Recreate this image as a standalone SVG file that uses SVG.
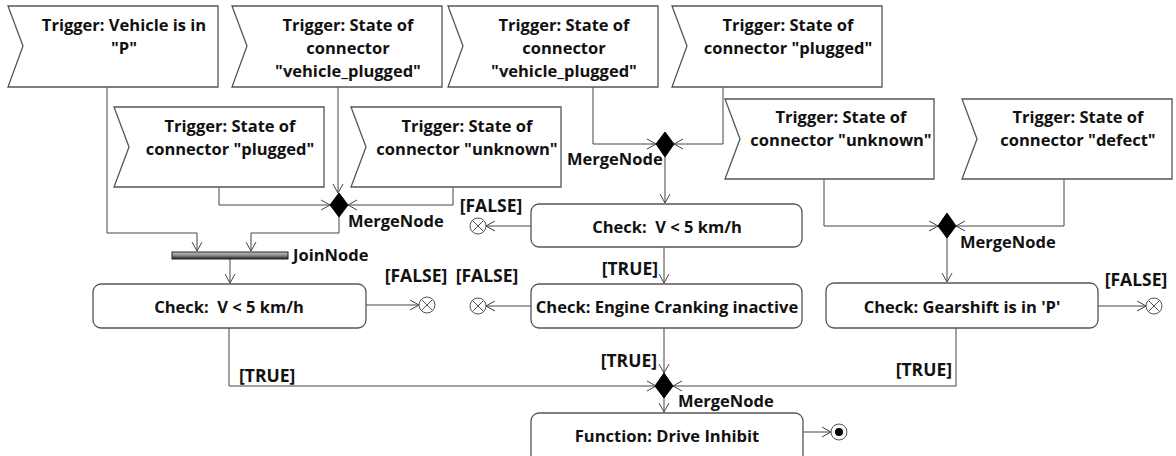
<svg xmlns="http://www.w3.org/2000/svg" width="1176" height="456" viewBox="0 0 1176 456">
<defs>
<marker id="arr" markerWidth="12" markerHeight="12" refX="10" refY="6" orient="auto" markerUnits="userSpaceOnUse">
<path d="M1,1 L10,6 L1,11" fill="none" stroke="#444" stroke-width="1"/>
</marker>
<linearGradient id="bar" x1="0" y1="0" x2="0" y2="1">
<stop offset="0" stop-color="#c8c8c8"/>
<stop offset="0.5" stop-color="#888"/>
<stop offset="1" stop-color="#222"/>
</linearGradient>
</defs>
<style>
.t{font-family:"Open Sans","Noto Sans","DejaVu Sans",sans-serif;font-weight:bold;font-size:16.5px;fill:#111;white-space:pre;}
.g{font-size:17.5px;}
.m{text-anchor:middle;}
.e{text-anchor:end;}
.sh{fill:#fff;stroke:#555;stroke-width:1.3;}
.c{fill:none;stroke:#444;stroke-width:1;marker-end:url(#arr);}
.d{fill:#000;stroke:#000;stroke-width:1;}
.ff{fill:#fff;stroke:#555;stroke-width:1;}
.x{stroke:#555;stroke-width:1;}
</style>
<rect width="1176" height="456" fill="#fff"/>

<g id="connectors">
<path class="c" d="M107,87 V233 H197 V251"/>
<path class="c" d="M338,87 V193"/>
<path class="c" d="M219,187 V205 H330"/>
<path class="c" d="M453,187 V205 H348"/>
<path class="c" d="M339,217 V233 H251 V251"/>
<path class="c" d="M230,259 V283"/>
<path class="c" d="M366,305 H419"/>
<path class="c" d="M229,328 V386 H656"/>
<path class="c" d="M593,87 V144 H656"/>
<path class="c" d="M723,87 V144 H674"/>
<path class="c" d="M665,157 V203"/>
<path class="c" d="M531,226 H486"/>
<path class="c" d="M664,247 V283"/>
<path class="c" d="M531,306 H486"/>
<path class="c" d="M664,328 V373"/>
<path class="c" d="M824,179 V226 H938"/>
<path class="c" d="M1064,179 V226 H956"/>
<path class="c" d="M947,238 V282"/>
<path class="c" d="M1098,306 H1146"/>
<path class="c" d="M956,328 V386 H673"/>
<path class="c" d="M664,398 V412"/>
<path class="c" d="M803,432 H831"/>
<text class="t g m" x="491" y="212">[FALSE]</text>
<text class="t g m" x="416" y="282">[FALSE]</text>
<text class="t g m" x="487" y="282">[FALSE]</text>
<text class="t g m" x="1136" y="286">[FALSE]</text>
<text class="t g e" x="658" y="275">[TRUE]</text>
<text class="t g" x="239" y="382">[TRUE]</text>
<text class="t g e" x="657" y="367">[TRUE]</text>
<text class="t g e" x="952" y="376">[TRUE]</text>
</g>

<g id="trigger1">
<path class="sh" d="M8,6 H218 V87 H8 L23,46 Z"/>
<text class="t m" x="124" y="31">Trigger: Vehicle is in</text>
<text class="t m" x="124" y="54">"P"</text>
</g>
<g id="trigger2">
<path class="sh" d="M232,6 H442 V87 H232 L247,46 Z"/>
<text class="t m" x="348" y="31">Trigger: State of</text>
<text class="t m" x="348" y="54">connector</text>
<text class="t m" x="348" y="77">"vehicle_plugged"</text>
</g>
<g id="trigger3">
<path class="sh" d="M114,107 H324 V187 H114 L129,147 Z"/>
<text class="t m" x="230" y="132">Trigger: State of</text>
<text class="t m" x="230" y="155">connector "plugged"</text>
</g>
<g id="trigger4">
<path class="sh" d="M351,107 H561 V187 H351 L366,147 Z"/>
<text class="t m" x="467" y="132">Trigger: State of</text>
<text class="t m" x="467" y="155">connector "unknown"</text>
</g>
<g id="trigger5">
<path class="sh" d="M448,6 H658 V87 H448 L463,46 Z"/>
<text class="t m" x="564" y="31">Trigger: State of</text>
<text class="t m" x="564" y="54">connector</text>
<text class="t m" x="564" y="77">"vehicle_plugged"</text>
</g>
<g id="trigger6">
<path class="sh" d="M672,6 H882 V87 H672 L687,46 Z"/>
<text class="t m" x="788" y="31">Trigger: State of</text>
<text class="t m" x="788" y="54">connector "plugged"</text>
</g>
<g id="trigger7">
<path class="sh" d="M725,99 H934 V179 H725 L740,139 Z"/>
<text class="t m" x="841" y="123">Trigger: State of</text>
<text class="t m" x="841" y="146">connector "unknown"</text>
</g>
<g id="trigger8">
<path class="sh" d="M962,99 H1172 V179 H962 L977,139 Z"/>
<text class="t m" x="1078" y="123">Trigger: State of</text>
<text class="t m" x="1078" y="146">connector "defect"</text>
</g>

<g id="merge1">
<path class="d" d="M339,193 L348,205 L339,217 L330,205 Z"/>
<text class="t" x="348" y="227">MergeNode</text>
</g>
<g id="merge2">
<path class="d" d="M665,132 L674,144 L665,157 L656,144 Z"/>
<text class="t" x="567" y="165">MergeNode</text>
</g>
<g id="merge3">
<path class="d" d="M947,213 L956,226 L947,238 L938,226 Z"/>
<text class="t" x="960" y="248">MergeNode</text>
</g>
<g id="merge4">
<path class="d" d="M664,373 L673,386 L664,398 L655,386 Z"/>
<text class="t" x="678" y="407">MergeNode</text>
</g>

<g id="join">
<rect x="172" y="252" width="116" height="7" fill="url(#bar)" stroke="#222" stroke-width="1"/>
<text class="t" x="293" y="261">JoinNode</text>
</g>

<g id="check1">
<rect class="sh" x="93" y="284" width="273" height="44" rx="8"/>
<text class="t m" x="229" y="313">Check:  V &lt; 5 km/h</text>
</g>
<g id="check2">
<rect class="sh" x="531" y="204" width="271" height="43" rx="8"/>
<text class="t m" x="667" y="233">Check:  V &lt; 5 km/h</text>
</g>
<g id="check3">
<rect class="sh" x="531" y="284" width="271" height="44" rx="8"/>
<text class="t m" x="667" y="313">Check: Engine Cranking inactive</text>
</g>
<g id="check4">
<rect class="sh" x="826" y="283" width="272" height="45" rx="8"/>
<text class="t m" x="962" y="313">Check: Gearshift is in 'P'</text>
</g>
<g id="function">
<rect class="sh" x="531" y="413" width="272" height="52" rx="8"/>
<text class="t m" x="667" y="442">Function: Drive Inhibit</text>
</g>

<g id="final1">
<circle class="ff" cx="427" cy="305" r="8"/>
<path class="x" d="M421.3,299.3 L432.7,310.7 M432.7,299.3 L421.3,310.7"/>
</g>
<g id="final2">
<circle class="ff" cx="478" cy="226" r="8"/>
<path class="x" d="M472.3,220.3 L483.7,231.7 M483.7,220.3 L472.3,231.7"/>
</g>
<g id="final3">
<circle class="ff" cx="478" cy="306" r="8"/>
<path class="x" d="M472.3,300.3 L483.7,311.7 M483.7,300.3 L472.3,311.7"/>
</g>
<g id="final4">
<circle class="ff" cx="1154" cy="306" r="8"/>
<path class="x" d="M1148.3,300.3 L1159.7,311.7 M1159.7,300.3 L1148.3,311.7"/>
</g>
<g id="end">
<circle class="ff" cx="839" cy="432" r="8"/>
<circle cx="839" cy="432" r="4" fill="#000"/>
</g>
</svg>
